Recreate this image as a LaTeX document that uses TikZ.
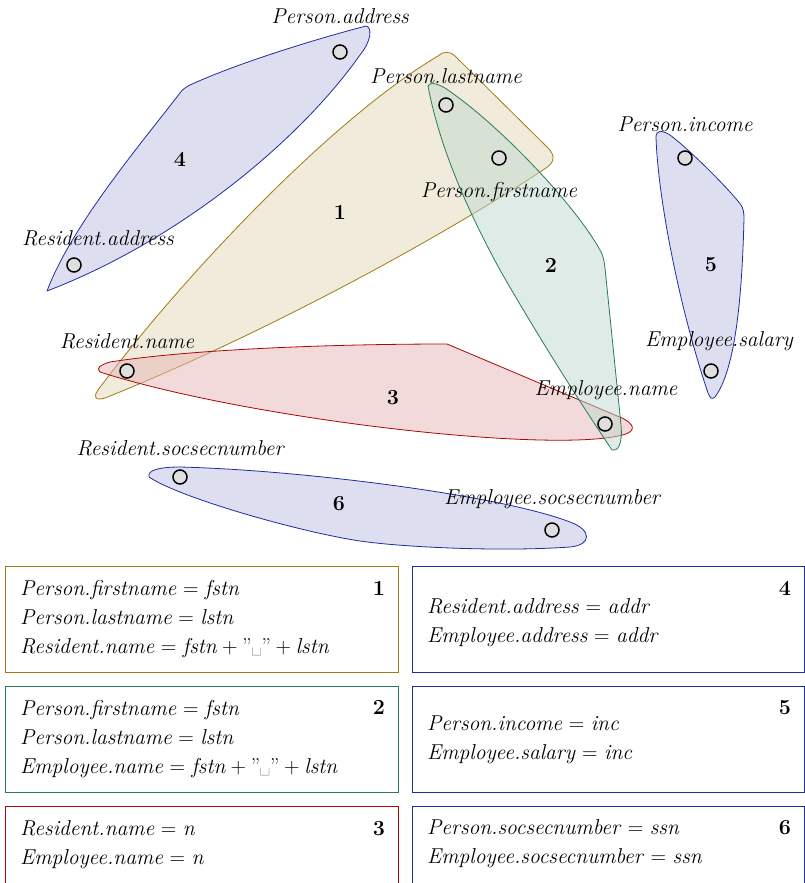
\documentclass[tikz,border=0pt]{standalone}
\definecolor{goldc}{RGB}{160,122,18}
\definecolor{greenc}{RGB}{40,122,92}
\definecolor{redc}{RGB}{170,8,8}
\definecolor{bluec}{RGB}{30,45,160}
\begin{document}
\begin{tikzpicture}[x=1pt,y=-1pt,
  vert/.style={circle,draw=black,line width=1.5pt,fill=gray!25,minimum size=14pt,inner sep=0pt},
  lab/.style={font=\fontsize{21.5}{29}\selectfont\itshape,inner sep=0pt,anchor=base},
  num/.style={font=\fontsize{21.5}{29}\selectfont\bfseries,inner sep=0pt,anchor=base},
  eq/.style={font=\fontsize{21.5}{29}\selectfont,inner sep=0pt,anchor=base west},
  hedge/.style={draw=#1,fill=#1!30,fill opacity=0.5,line width=0.8pt,line join=round},
  eqbox/.style={draw=#1,line width=0.8pt}]
\useasboundingbox (0,0) rectangle (805,883);

% hyperedge 4
\path[hedge=bluec] (47,291) .. controls (72,225) and (140,145) .. (180,93)
  .. controls (183,89) and (186,87) .. (190,85)
  .. controls (240,62) and (320,38) .. (366,26)
  .. controls (372,27) and (372,40) .. (360,55)
  .. controls (300,140) and (180,240) .. (47,291) -- cycle;
% hyperedge 1
\path[hedge=goldc] (438,56) .. controls (443,51) and (450,51) .. (455,56)
  -- (548,148)
  .. controls (555,155) and (555,162) .. (546,168)
  .. controls (430,245) and (250,340) .. (105,398)
  .. controls (95,401) and (93,397) .. (98,390)
  .. controls (180,280) and (330,120) .. (438,56) -- cycle;
% hyperedge 3
\path[hedge=redc] (100,372) .. controls (96,368) and (100,365) .. (110,362)
  .. controls (200,348) and (350,344) .. (447,344)
  -- (622,418)
  .. controls (634,424) and (636,430) .. (626,434)
  .. controls (560,455) and (250,420) .. (100,372) -- cycle;
% hyperedge 2
\path[hedge=greenc] (428,86) .. controls (430,82) and (436,83) .. (445,88)
  .. controls (500,125) and (575,205) .. (600,250)
  .. controls (603,255) and (604,260) .. (605,268)
  -- (621,425)
  .. controls (623,445) and (617,452) .. (612,450)
  .. controls (585,410) and (540,340) .. (500,270)
  .. controls (470,215) and (440,150) .. (428,86) -- cycle;
% hyperedge 5
\path[hedge=bluec] (656,137) .. controls (656,130) and (662,130) .. (670,135)
  .. controls (690,150) and (730,190) .. (741,205)
  .. controls (743,208) and (744,212) .. (744,218)
  .. controls (742,300) and (735,370) .. (715,397)
  .. controls (712,400) and (710,398) .. (708,393)
  .. controls (680,310) and (658,200) .. (656,137) -- cycle;
% hyperedge 6
\path[hedge=bluec] (149,477) .. controls (147,470) and (160,467) .. (180,467)
  .. controls (300,470) and (500,495) .. (570,522)
  .. controls (592,530) and (592,545) .. (570,547)
  .. controls (500,552) and (400,547) .. (360,541)
  .. controls (300,532) and (180,498) .. (149,477) -- cycle;

% vertices
\node[vert] (pa) at (340,52) {};
\node[vert] (pl) at (446,105) {};
\node[vert] (pf) at (499,158) {};
\node[vert] (ra) at (74,265) {};
\node[vert] (pi) at (685,158) {};
\node[vert] (es) at (711,371) {};
\node[vert] (rn) at (127,371) {};
\node[vert] (en) at (605,424) {};
\node[vert] (rs) at (180,477) {};
\node[vert] (esn) at (552,530) {};

% labels
\node[lab] (lpa) at (340,24) {Person.address};
\node[lab] (lpl) at (446,83) {Person.lastname};
\node[lab] (lpf) at (499,197) {Person.firstname};
\node[lab] (lpi) at (685,131) {Person.income};
\node[lab] (lra) at (98,245) {Resident.address};
\node[lab] (les) at (719,346) {Employee.salary};
\node[lab] (lrn) at (127,348) {Resident.name};
\node[lab] (len) at (606,395) {Employee.name};
\node[lab] (lrs) at (180,455) {Resident.socsecnumber};
\node[lab] (lesn) at (552,504) {Employee.socsecnumber};

% hyperedge numbers
\node[num,anchor=center] (h1) at (340,212) {1};
\node[num,anchor=center] (h2) at (551,265) {2};
\node[num,anchor=center] (h3) at (393,398) {3};
\node[num,anchor=center] (h4) at (180,159) {4};
\node[num,anchor=center] (h5) at (711,265) {5};
\node[num,anchor=center] (h6) at (339,504) {6};

% boxes
\draw[eqbox=goldc] (5,566) rectangle (398,672);
\draw[eqbox=bluec] (412,566) rectangle (804,672);
\draw[eqbox=greenc] (5,686) rectangle (398,792);
\draw[eqbox=bluec] (412,686) rectangle (804,792);
\draw[eqbox=redc] (5,806) rectangle (398,900);
\draw[eqbox=bluec] (412,806) rectangle (804,900);

% box 1
\node[eq] (b1a) at (20,595) {\textit{Person.firstname} = \textit{fstn}};
\node[eq] (b1b) at (20,624) {\textit{Person.lastname} = \textit{lstn}};
\node[eq] (b1c) at (20,653) {\textit{Resident.name} = \textit{fstn}\:+\:''\textvisiblespace''\:+\:\textit{lstn}};
\node[num] (n1) at (379,595) {1};
% box 4
\node[eq] (b4a) at (427,613) {\textit{Resident.address} = \textit{addr}};
\node[eq] (b4b) at (427,642) {\textit{Employee.address} = \textit{addr}};
\node[num] (n4) at (785,595) {4};
% box 2
\node[eq] (b2a) at (20,715) {\textit{Person.firstname} = \textit{fstn}};
\node[eq] (b2b) at (20,744) {\textit{Person.lastname} = \textit{lstn}};
\node[eq] (b2c) at (20,773) {\textit{Employee.name} = \textit{fstn}\:+\:''\textvisiblespace''\:+\:\textit{lstn}};
\node[num] (n2) at (379,714) {2};
% box 5
\node[eq] (b5a) at (427,730) {\textit{Person.income} = \textit{inc}};
\node[eq] (b5b) at (427,759) {\textit{Employee.salary} = \textit{inc}};
\node[num] (n5) at (785,714) {5};
% box 3
\node[eq] (b3a) at (20,835) {\textit{Resident.name} = \textit{n}};
\node[eq] (b3b) at (20,864) {\textit{Employee.name} = \textit{n}};
\node[num] (n3) at (379,835) {3};
% box 6
\node[eq] (b6a) at (427,834) {\textit{Person.socsecnumber} = \textit{ssn}};
\node[eq] (b6b) at (427,863) {\textit{Employee.socsecnumber} = \textit{ssn}};
\node[num] (n6) at (785,834) {6};
\end{tikzpicture}
\end{document}
